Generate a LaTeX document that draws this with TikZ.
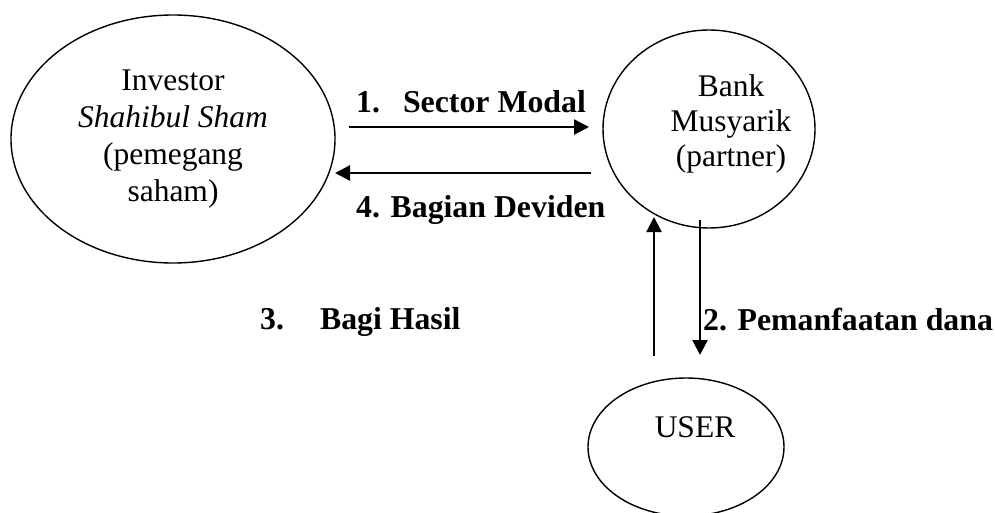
\documentclass[tikz,border=0pt]{standalone}
\usepackage{fontspec}
\setmainfont{Liberation Serif}
\usetikzlibrary{shapes.geometric,arrows.meta}
\begin{document}
\begin{tikzpicture}[x=1pt,y=-1pt,
  party/.style={draw,ellipse,line width=1.4pt,inner sep=0pt,align=center,
    font=\fontsize{31.5}{37}\selectfont},
  txt/.style={inner sep=0pt,align=center,font=\fontsize{31.5}{35}\selectfont},
  flow/.style={line width=2.3pt,-{Triangle[length=15pt,width=15pt]}},
  lbl/.style={font=\fontsize{31.8}{37}\selectfont\bfseries,inner sep=0pt,anchor=base west}]
\useasboundingbox (0,0) rectangle (995,513);

% the three parties
\node[party,minimum width=324pt,minimum height=248pt] (inv) at (173,139)
  {Investor\\\textit{Shahibul Sham}\\(pemegang\\saham)};
\node[party,minimum width=212pt,minimum height=198pt] (bank) at (709,129) {};
\node[txt] (banktxt) at (731,124) {Bank\\Musyarik\\(partner)};
\node[party,minimum width=196pt,minimum height=138pt] (user) at (686,447) {};
\node[txt,anchor=base] (usertxt) at (695,437) {USER};

% arrow end points
\coordinate (a1s) at (349,127);
\coordinate (a1e) at (589,127);
\coordinate (a4s) at (591,173);
\coordinate (a4e) at (335,173);
\coordinate (a3s) at (654,356);
\coordinate (a3e) at (654,217);
\coordinate (a2s) at (700,220);
\coordinate (a2e) at (700,355);

% flows
\draw[flow] (a1s) -- (a1e);
\draw[flow] (a4s) -- (a4e);
\draw[flow] (a3s) -- (a3e);
\draw[flow] (a2s) -- (a2e);

% flow labels
\node[lbl] (l1) at (356,113) {1.\hspace{23pt}Sector Modal};
\node[lbl] (l4) at (356,217) {4. Bagian Deviden};
\node[lbl] (l3) at (260,329) {3.\hspace{36pt}Bagi Hasil};
\node[lbl] (l2) at (703,330) {2. Pemanfaatan dana};
\end{tikzpicture}
\end{document}
